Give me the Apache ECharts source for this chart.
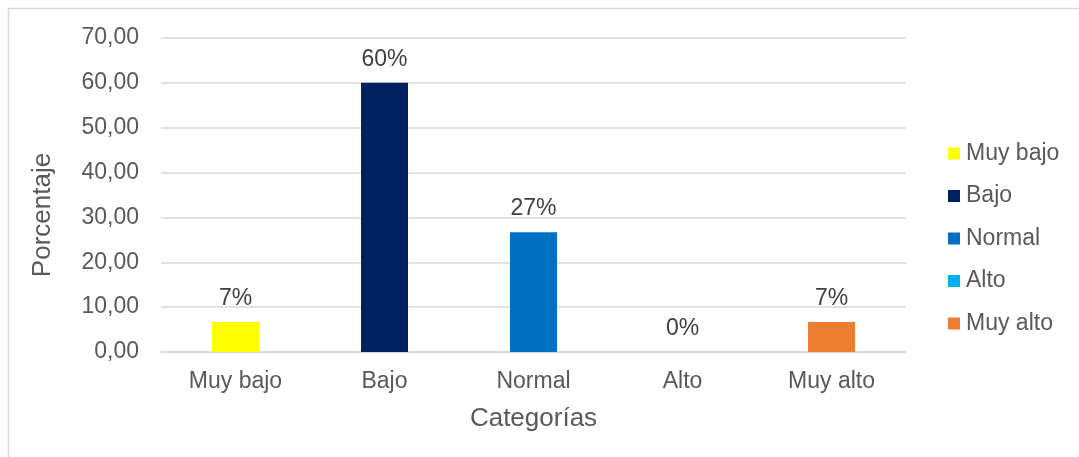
<!DOCTYPE html>
<html>
<head>
<meta charset="utf-8">
<script src="https://cdn.jsdelivr.net/npm/echarts@6/dist/echarts.min.js"></script>
<style>
  html, body { margin: 0; padding: 0; background: #ffffff; }
  #chart { width: 1079px; height: 457px; }
</style>
</head>
<body>
<div id="chart"></div>
<script>
// Categorías y porcentajes
const categories = ['Muy bajo', 'Bajo', 'Normal', 'Alto', 'Muy alto'];
const percentages = [6.67, 60.0, 26.67, 0.0, 6.67];
const barColors = ['#FFFF00', '#002060', '#0070C0', '#00B0F0', '#ED7D31'];
const yTicks = { min: 0, max: 70, interval: 10 };

const font = 'Liberation Sans, Arial, sans-serif';
const textColor = '#595959';

// One series per category so each gets its own legend entry and colour
const series = categories.map((name, i) => ({
  name: name,
  type: 'bar',
  stack: 'total',
  barWidth: 47,
  itemStyle: { color: barColors[i] },
  label: {
    show: true,
    position: 'top',
    distance: 12,
    fontFamily: font,
    fontSize: 23,
    color: '#404040',
    formatter: p => Math.round(p.value) + '%'
  },
  data: categories.map((c, j) => (j === i ? percentages[i] : '-'))
}));

const chart = echarts.init(document.getElementById('chart'));
chart.setOption({
  animation: false,
  backgroundColor: '#ffffff',
  textStyle: { fontFamily: font },
  graphic: [{
    type: 'rect',
    shape: { x: 8.5, y: 8.5, width: 1200, height: 600 },
    style: { fill: 'none', stroke: '#d9d9d9', lineWidth: 1.5 },
    silent: true
  }],
  grid: { left: 161, right: 173, top: 38, bottom: 105 },
  legend: {
    orient: 'vertical',
    left: 943,
    top: 137,
    itemWidth: 12,
    itemHeight: 12,
    itemGap: 19.5,
    icon: 'rect',
    textStyle: { fontFamily: font, fontSize: 23, color: textColor, padding: [0, 0, 0, 1] },
    data: categories
  },
  xAxis: {
    type: 'category',
    data: categories,
    name: 'Categorías',
    nameLocation: 'middle',
    nameGap: 54,
    nameTextStyle: { fontFamily: font, fontSize: 26, color: textColor },
    axisLine: { show: true, lineStyle: { color: '#d9d9d9', width: 1.5 } },
    axisTick: { show: false },
    axisLabel: { fontFamily: font, fontSize: 23, color: textColor, margin: 18 }
  },
  yAxis: {
    type: 'value',
    min: yTicks.min,
    max: yTicks.max,
    interval: yTicks.interval,
    name: 'Porcentaje',
    nameLocation: 'middle',
    nameGap: 105,
    nameTextStyle: { fontFamily: font, fontSize: 26, color: textColor, padding: [0, 40, 0, 0] },
    axisLine: { show: false },
    axisTick: { show: false },
    splitLine: { lineStyle: { color: '#d9d9d9', width: 1.5 } },
    axisLabel: {
      fontFamily: font,
      fontSize: 23,
      color: textColor,
      margin: 22,
      formatter: v => v.toFixed(2).replace('.', ',')
    }
  },
  series: series
});
</script>
</body>
</html>
